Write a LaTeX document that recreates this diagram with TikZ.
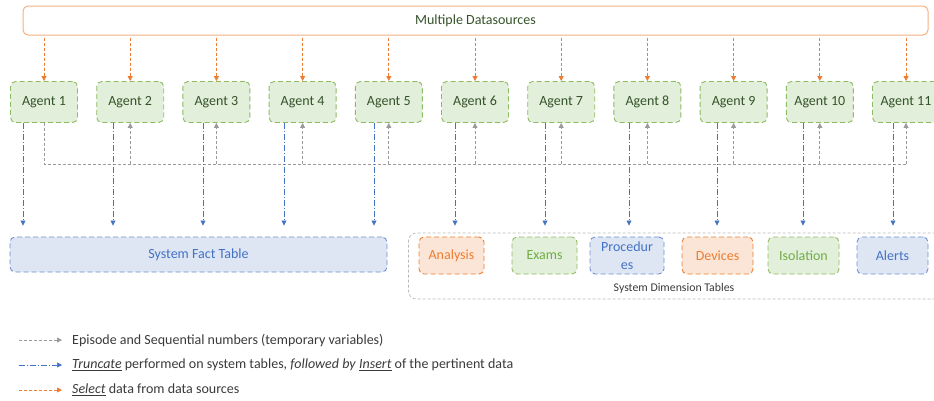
\documentclass[tikz,border=0pt]{standalone}
\usepackage{fontspec}
\setmainfont{Carlito}
\usetikzlibrary{arrows.meta,calc}

\definecolor{dsline}{HTML}{F4B183}
\definecolor{orangeln}{HTML}{ED7D31}
\definecolor{orangefill}{HTML}{FBE5D6}
\definecolor{agentline}{HTML}{8DBB62}
\definecolor{greenln}{HTML}{8DBB62}
\definecolor{greenfill}{HTML}{E2EFDA}
\definecolor{greentxt}{HTML}{35532A}
\definecolor{greenlbl}{HTML}{70AD47}
\definecolor{blueln}{HTML}{4472C4}
\definecolor{bluebox}{HTML}{6F8FD2}
\definecolor{bluefill}{HTML}{DEE6F4}
\definecolor{grayln}{HTML}{9A9A9A}
\definecolor{legtxt}{HTML}{3A3A3A}

\begin{document}
\begin{tikzpicture}[x=1pt,y=-1pt,
  font=\fontsize{14}{17}\selectfont,
  tip/.style={-{Triangle[length=5pt,width=5pt]}},
  agent/.style={draw=agentline, fill=greenfill, text=greentxt,
    rounded corners=5pt, dash pattern=on 5pt off 3pt, line width=0.9pt,
    minimum width=67pt, minimum height=41pt, inner sep=0pt},
  dimtable/.style={rounded corners=5pt, dash pattern=on 5pt off 3pt,
    line width=0.9pt, minimum height=37pt, inner sep=0pt, align=center},
  orangetab/.style={dimtable, draw=orangeln, fill=orangefill, text=orangeln},
  greentab/.style={dimtable, draw=greenln, fill=greenfill, text=greenlbl},
  bluetab/.style={dimtable, draw=bluebox, fill=bluefill, text=blueln},
  selectln/.style={tip, draw=orangeln, line width=0.8pt, dash pattern=on 3pt off 2pt},
  seqln/.style={tip, draw=grayln, line width=0.8pt, dash pattern=on 3pt off 2pt},
  truncln/.style={tip, draw=blueln, line width=0.7pt, dash pattern=on 6pt off 2pt on 1pt off 2pt},
  legend/.style={anchor=west, text=legtxt, font=\fontsize{14}{17}\selectfont, inner sep=0pt}
]
\useasboundingbox (0,0) rectangle (934,400);

% data sources
\node[draw=dsline, line width=1pt, rounded corners=5pt, fill=white,
      minimum width=905pt, minimum height=29pt, inner sep=0pt, text=greentxt]
  (ds) at (475.5,20.5) {Multiple Datasources};

% agents
\foreach \i/\cx in {1/44,2/130.2,3/216.4,4/302.6,5/388.8,6/475,7/561.2,8/647.4,9/733.6,10/819.8,11/906}
  \node[agent] (a\i) at (\cx,102) {Agent \i};

% fact table
\node[bluetab, minimum width=377pt, minimum height=35pt] (fact) at (198.5,254.5) {System Fact Table};

% dimension tables group
\node[draw=grayln!70, rounded corners=8pt, dash pattern=on 3pt off 2pt, line width=0.7pt,
      minimum width=540pt, minimum height=66pt, inner sep=0pt] (dimgrp) at (678.5,266) {};
\node[text=legtxt, font=\fontsize{11.8}{13}\selectfont, inner sep=0pt] (dimlbl) at (674,288) {System Dimension Tables};

\node[orangetab, minimum width=65pt] (analysis) at (451.5,255.5) {Analysis};
\node[greentab, minimum width=65pt] (exams) at (544.5,255.5) {Exams};
\node[bluetab, minimum width=74pt, font=\fontsize{14}{17.5}\selectfont] (proc) at (627,255.5) {Procedur\\es};
\node[orangetab, minimum width=71pt] (devices) at (717.5,255.5) {Devices};
\node[greentab, minimum width=71pt] (isolation) at (803.5,255.5) {Isolation};
\node[bluetab, minimum width=71pt] (alerts) at (892.5,255.5) {Alerts};

% select: data sources -> agents
\foreach \i in {1,...,11}
  \draw[selectln, shorten <=2pt] (ds.south -| a\i.north) -- (a\i.north);

% episode / sequential numbers bus
\coordinate (bus) at (0,164);
\draw[seqln, -] (a1.south) |- (bus -| a11.south);
\foreach \i in {2,...,11}
  \draw[seqln] (bus -| a\i.south) -- (a\i.south);

% truncate + insert: agents -> system tables
\foreach \i/\dx/\t in {1/-21/fact,2/-17.2/fact,3/-13.4/fact,4/-18.6/fact,5/-14.8/fact,
                       6/-20/analysis,7/-16.2/exams,8/-18.4/proc,9/-16.6/devices,
                       10/-16.8/isolation,11/-13/alerts}
  \draw[truncln, shorten >=11pt] ($(a\i.south)+(\dx,0)$) -- ($(a\i.south |- \t.north)+(\dx,0)$);

% legend
\coordinate (l1s) at (19,340); \coordinate (l1e) at (62,340);
\coordinate (l2s) at (19,365); \coordinate (l2e) at (62,365);
\coordinate (l3s) at (19,390); \coordinate (l3e) at (62,390);
\draw[seqln] (l1s) -- (l1e);
\draw[truncln] (l2s) -- (l2e);
\draw[selectln] (l3s) -- (l3e);
\node[legend] (l1t) at (72,340) {Episode and Sequential numbers (temporary variables)};
\node[legend] (l2t) at (72,365) {\underline{\textit{Truncate}} performed on system tables, \textit{followed by} \underline{\textit{Insert}} of the pertinent data};
\node[legend] (l3t) at (72,390) {\underline{\textit{Select}} data from data sources};
\end{tikzpicture}
\end{document}
